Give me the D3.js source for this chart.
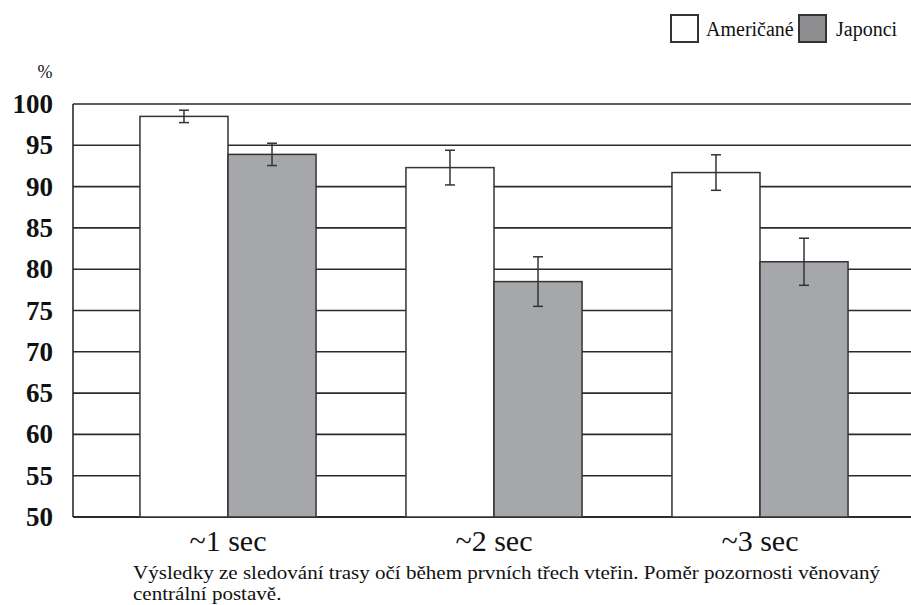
<!DOCTYPE html>
<html>
<head>
<meta charset="utf-8">
<script src="https://cdn.jsdelivr.net/npm/d3@7"></script>
<style>
  body { margin: 0; background: #fff; }
</style>
</head>
<body>
<script>
// data
var categories = ["~1 sec", "~2 sec", "~3 sec"];
var seriesNames = ["Američané", "Japonci"];
var americans = [98.5, 92.3, 91.7];
var americansErr = [0.75, 2.1, 2.15];
var japanese = [93.9, 78.5, 80.9];
var japaneseErr = [1.35, 3.0, 2.85];
var yTicks = [50, 55, 60, 65, 70, 75, 80, 85, 90, 95, 100];
var caption = ["Výsledky ze sledování trasy očí během prvních třech vteřin. Poměr pozornosti věnovaný",
               "centrální postavě."];

var serif = "Liberation Serif";
var svgWidth = 911, svgHeight = 605;
var plotLeft = 73, plotRight = 911;
var plotTop = 104, plotBottom = 517;

var svg = d3.select("body").append("svg")
    .attr("width", svgWidth)
    .attr("height", svgHeight);

var yScale = d3.scaleLinear().domain([50, 100]).range([plotBottom, plotTop]);
var xScale = d3.scaleBand().domain(categories).range([95, 893])
    .paddingInner(0.338).paddingOuter(0.169);
var xSub = d3.scaleBand().domain(seriesNames).range([0, xScale.bandwidth()]);

var colors = { "Američané": "#ffffff", "Japonci": "#a6a7ab" };

var rows = [];
categories.forEach(function(c, i) {
    rows.push({ cat: c, series: seriesNames[0], value: americans[i], err: americansErr[i] });
    rows.push({ cat: c, series: seriesNames[1], value: japanese[i], err: japaneseErr[i] });
});

// gridlines
svg.append("g").selectAll("line")
    .data(yTicks)
    .enter()
    .append("line")
    .attr("x1", plotLeft)
    .attr("x2", plotRight)
    .attr("y1", d => yScale(d))
    .attr("y2", d => yScale(d))
    .attr("stroke", "#2b2b2b")
    .attr("stroke-width", d => d == 50 ? 2.2 : 1.6);

// left axis line
svg.append("line")
    .attr("x1", plotLeft).attr("x2", plotLeft)
    .attr("y1", plotTop).attr("y2", plotBottom)
    .attr("stroke", "#2b2b2b")
    .attr("stroke-width", 1.6);

// bars
svg.append("g").selectAll("rect")
    .data(rows)
    .enter()
    .append("rect")
    .attr("x", d => xScale(d.cat) + xSub(d.series))
    .attr("y", d => yScale(d.value))
    .attr("width", xSub.bandwidth())
    .attr("height", d => plotBottom - yScale(d.value))
    .attr("fill", d => colors[d.series])
    .attr("stroke", "#333")
    .attr("stroke-width", 1.5);

// error bars
var errG = svg.append("g").attr("stroke", "#333").attr("stroke-width", 1.5);
rows.forEach(function(d) {
    var cx = xScale(d.cat) + xSub(d.series) + xSub.bandwidth() / 2;
    var y1 = yScale(d.value + d.err), y2 = yScale(d.value - d.err);
    errG.append("line").attr("x1", cx).attr("x2", cx).attr("y1", y1).attr("y2", y2);
    errG.append("line").attr("x1", cx - 5).attr("x2", cx + 5).attr("y1", y1).attr("y2", y1);
    errG.append("line").attr("x1", cx - 5).attr("x2", cx + 5).attr("y1", y2).attr("y2", y2);
});

// y tick labels
svg.append("g").selectAll("text")
    .data(yTicks)
    .enter()
    .append("text")
    .attr("x", 53)
    .attr("y", d => yScale(d) + 9)
    .attr("text-anchor", "end")
    .style("font-family", serif)
    .style("font-size", "27px")
    .style("font-weight", "bold")
    .attr("fill", "#111")
    .text(d => d);

svg.append("text")
    .attr("x", 45)
    .attr("y", 78)
    .attr("text-anchor", "middle")
    .style("font-family", serif)
    .style("font-size", "18px")
    .attr("fill", "#111")
    .text("%");

// category labels
svg.append("g").selectAll("text")
    .data(categories)
    .enter()
    .append("text")
    .attr("x", d => xScale(d) + xScale.bandwidth() / 2)
    .attr("y", 551)
    .attr("text-anchor", "middle")
    .style("font-family", serif)
    .style("font-size", "30px")
    .attr("fill", "#111")
    .text(d => d);

// caption (source text looks horizontally stretched)
svg.append("g")
    .attr("transform", "translate(133, 0) scale(1.17, 1)")
    .selectAll("text")
    .data(caption)
    .enter()
    .append("text")
    .attr("x", 0)
    .attr("y", (d, i) => 579 + i * 21)
    .style("font-family", serif)
    .style("font-size", "18px")
    .attr("fill", "#111")
    .text(d => d);

// legend
var legendX = [671, 799];
var legendFill = ["#ffffff", "#8e8e91"];
var legend = svg.append("g");
seriesNames.forEach(function(s, i) {
    legend.append("rect")
        .attr("x", legendX[i])
        .attr("y", 15)
        .attr("width", 27)
        .attr("height", 27)
        .attr("fill", legendFill[i])
        .attr("stroke", "#333")
        .attr("stroke-width", 2);
    legend.append("text")
        .attr("x", legendX[i] + (i == 0 ? 35 : 37))
        .attr("y", 36)
        .style("font-family", serif)
        .style("font-size", "20px")
        .attr("fill", "#111")
        .text(s);
});
</script>
</body>
</html>
